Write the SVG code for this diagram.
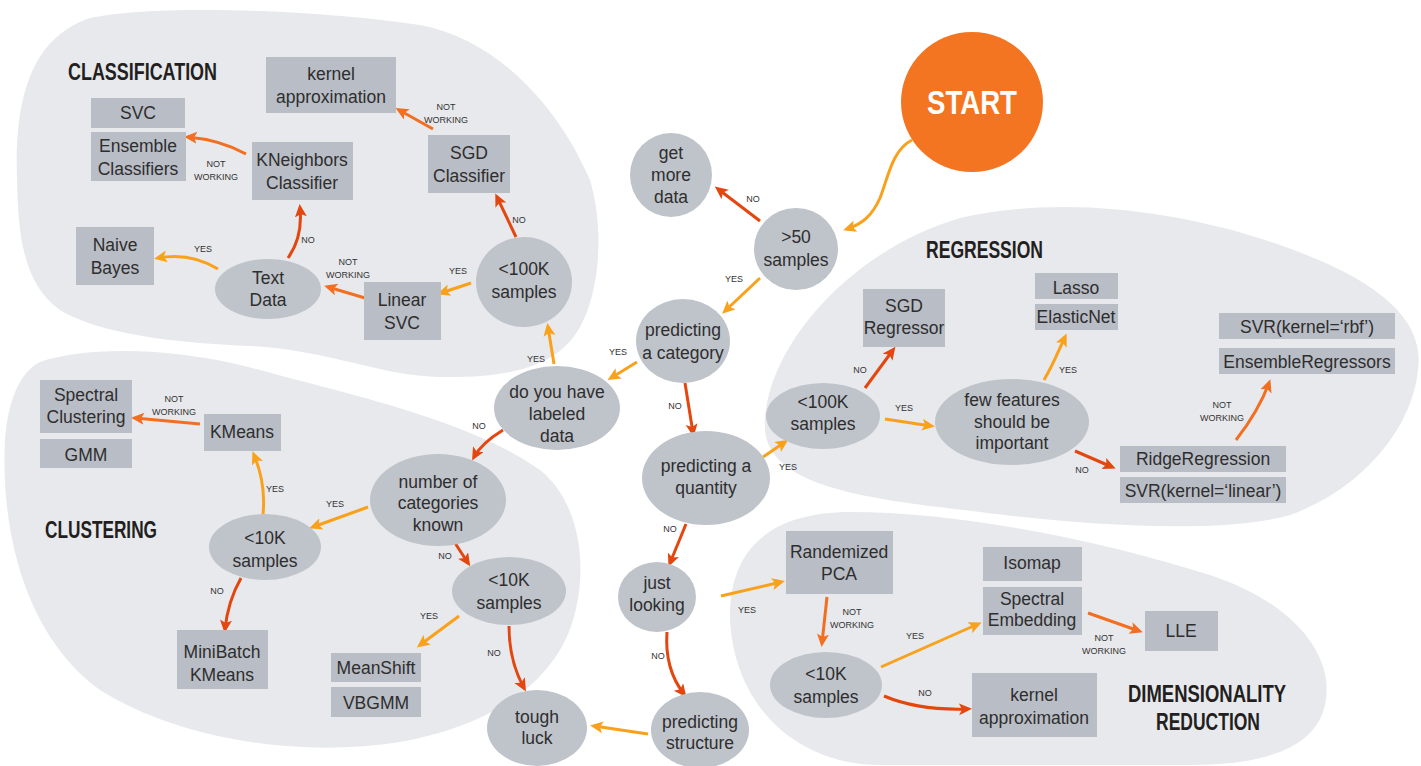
<svg xmlns="http://www.w3.org/2000/svg" width="1421" height="766" viewBox="0 0 1421 766">
<style>
.blob{fill:#e8e9ec}
.el{fill:#bfc3ca}
.bx{fill:#b9bdc5}
.n{font-family:"Liberation Sans",Arial,sans-serif;font-size:17.5px;fill:#2e2e2e;text-anchor:middle}
.l{font-family:"Liberation Sans",Arial,sans-serif;font-size:9px;fill:#333;text-anchor:middle}
.t{font-family:"Liberation Sans",Arial,sans-serif;font-size:24px;font-weight:bold;fill:#231f20}
.y{fill:none;stroke:#f9a11b;stroke-width:3}
.r{fill:none;stroke:#e3470f;stroke-width:3}
.o{fill:none;stroke:#f26f21;stroke-width:3}
</style>
<defs>
<marker id="my" markerUnits="userSpaceOnUse" markerWidth="14" markerHeight="14" refX="9" refY="6" orient="auto"><path d="M0,0 L13,6 L0,12 L3,6 Z" fill="#f9a11b"/></marker>
<marker id="mr" markerUnits="userSpaceOnUse" markerWidth="14" markerHeight="14" refX="9" refY="6" orient="auto"><path d="M0,0 L13,6 L0,12 L3,6 Z" fill="#e3470f"/></marker>
<marker id="mo" markerUnits="userSpaceOnUse" markerWidth="14" markerHeight="14" refX="9" refY="6" orient="auto"><path d="M0,0 L13,6 L0,12 L3,6 Z" fill="#f26f21"/></marker>
</defs>

<g id="regions">
<path id="blob-classification" class="blob" d="M17,180 C15,110 25,40 90,18 C150,5 300,8 420,25 C500,40 560,110 590,180 C605,230 600,300 575,335 C550,370 500,378 440,377 C380,376 330,350 250,346 C180,343 100,335 60,310 C25,285 18,240 17,180 Z"/>
<path id="blob-clustering" class="blob" d="M40,362 C90,345 180,348 260,370 C350,395 470,420 540,470 C590,510 590,600 560,650 C530,700 470,730 400,742 C300,758 180,740 100,690 C30,640 0,540 5,440 C8,400 20,372 40,362 Z"/>
<path id="blob-regression" class="blob" d="M765,430 C762,350 850,250 960,218 C1060,195 1180,210 1280,245 C1380,280 1425,320 1418,370 C1412,430 1360,490 1290,515 C1220,535 1080,525 980,512 C880,500 770,490 765,430 Z"/>
<path id="blob-dimensionality" class="blob" d="M730,620 C728,550 770,512 850,512 C960,512 1100,540 1210,575 C1300,605 1335,660 1325,705 C1315,750 1260,765 1190,765 L880,765 C800,765 735,710 730,620 Z"/>
<text class="t" x="68" y="80" textLength="149" lengthAdjust="spacingAndGlyphs">CLASSIFICATION</text>
<text class="t" x="926" y="258" textLength="117" lengthAdjust="spacingAndGlyphs">REGRESSION</text>
<text class="t" x="45" y="538" textLength="112" lengthAdjust="spacingAndGlyphs">CLUSTERING</text>
<text class="t" x="1128" y="702" textLength="158" lengthAdjust="spacingAndGlyphs">DIMENSIONALITY</text>
<text class="t" x="1156" y="730" textLength="104" lengthAdjust="spacingAndGlyphs">REDUCTION</text>
</g>

<g id="connectors">
<path class="y" d="M912,140 C892,150 888,178 880,198 C872,216 862,224 847,229" marker-end="url(#my)"/>
<path class="r" d="M760,221 L718,189" marker-end="url(#mr)"/>
<path class="y" d="M760,278 L725,311" marker-end="url(#my)"/>
<path class="y" d="M637,362 L611,378" marker-end="url(#my)"/>
<path class="r" d="M685,383 L693,433" marker-end="url(#mr)"/>
<path class="y" d="M554,364 L548,327" marker-end="url(#my)"/>
<path class="r" d="M503,430 C490,438 480,446 474,457" marker-end="url(#mr)"/>
<path class="y" d="M763,457 L785,442" marker-end="url(#my)"/>
<path class="r" d="M686,524 L670,563" marker-end="url(#mr)"/>
<path class="y" d="M721,596 L781,582" marker-end="url(#my)"/>
<path class="r" d="M667,632 C665,660 673,680 684,694" marker-end="url(#mr)"/>
<path class="y" d="M648,734 L594,726" marker-end="url(#my)"/>
<path class="o" d="M433,129 L399,110" marker-end="url(#mo)"/>
<path class="o" d="M246,154 C228,144 210,139 188,137" marker-end="url(#mo)"/>
<path class="r" d="M516,237 L497,197" marker-end="url(#mr)"/>
<path class="r" d="M288,258 C298,244 302,228 300,208" marker-end="url(#mr)"/>
<path class="y" d="M218,269 C200,258 180,254 158,258" marker-end="url(#my)"/>
<path class="o" d="M365,298 L328,287" marker-end="url(#mo)"/>
<path class="y" d="M471,283 L441,293" marker-end="url(#my)"/>
<path class="o" d="M200,424 L135,418" marker-end="url(#mo)"/>
<path class="y" d="M263,514 C265,494 262,474 254,455" marker-end="url(#my)"/>
<path class="r" d="M241,578 C232,594 227,610 225,629" marker-end="url(#mr)"/>
<path class="y" d="M368,507 L313,527" marker-end="url(#my)"/>
<path class="r" d="M455,543 L468,563" marker-end="url(#mr)"/>
<path class="y" d="M459,616 L420,645" marker-end="url(#my)"/>
<path class="r" d="M509,626 C509,650 514,670 524,688" marker-end="url(#mr)"/>
<path class="r" d="M865,388 L893,350" marker-end="url(#mr)"/>
<path class="y" d="M885,419 L931,426" marker-end="url(#my)"/>
<path class="y" d="M1044,380 C1053,365 1058,352 1065,337" marker-end="url(#my)"/>
<path class="r" d="M1075,451 L1112,467" marker-end="url(#mr)"/>
<path class="o" d="M1236,440 C1250,422 1262,402 1269,383" marker-end="url(#mo)"/>
<path class="o" d="M827,597 L822,643" marker-end="url(#mo)"/>
<path class="y" d="M881,667 L978,624" marker-end="url(#my)"/>
<path class="r" d="M884,696 C910,707 940,710 968,709" marker-end="url(#mr)"/>
<path class="o" d="M1088,613 L1139,631" marker-end="url(#mo)"/>
<text class="l" x="446" y="110">NOT</text><text class="l" x="446" y="123">WORKING</text>
<text class="l" x="216" y="167">NOT</text><text class="l" x="216" y="180">WORKING</text>
<text class="l" x="519" y="223">NO</text>
<text class="l" x="308" y="243">NO</text>
<text class="l" x="203" y="252">YES</text>
<text class="l" x="348" y="265">NOT</text><text class="l" x="348" y="278">WORKING</text>
<text class="l" x="458" y="274">YES</text>
<text class="l" x="753" y="202">NO</text>
<text class="l" x="734" y="282">YES</text>
<text class="l" x="618" y="355">YES</text>
<text class="l" x="675" y="409">NO</text>
<text class="l" x="536" y="362">YES</text>
<text class="l" x="479" y="429">NO</text>
<text class="l" x="788" y="470">YES</text>
<text class="l" x="670" y="532">NO</text>
<text class="l" x="747" y="613">YES</text>
<text class="l" x="658" y="659">NO</text>
<text class="l" x="174" y="402">NOT</text><text class="l" x="174" y="415">WORKING</text>
<text class="l" x="275" y="492">YES</text>
<text class="l" x="217" y="594">NO</text>
<text class="l" x="335" y="507">YES</text>
<text class="l" x="445" y="559">NO</text>
<text class="l" x="429" y="619">YES</text>
<text class="l" x="494" y="656">NO</text>
<text class="l" x="860" y="373">NO</text>
<text class="l" x="904" y="411">YES</text>
<text class="l" x="1068" y="373">YES</text>
<text class="l" x="1082" y="473">NO</text>
<text class="l" x="1222" y="408">NOT</text><text class="l" x="1222" y="421">WORKING</text>
<text class="l" x="852" y="615">NOT</text><text class="l" x="852" y="628">WORKING</text>
<text class="l" x="915" y="639">YES</text>
<text class="l" x="925" y="696">NO</text>
<text class="l" x="1104" y="641">NOT</text><text class="l" x="1104" y="654">WORKING</text>
</g>

<g id="start"><ellipse cx="972" cy="102" rx="71" ry="70" fill="#f47521"/><text x="972" y="114" font-family="Liberation Sans, Arial, sans-serif" font-weight="bold" font-size="34" fill="#fff" text-anchor="middle" textLength="90" lengthAdjust="spacingAndGlyphs">START</text></g>
<g id="get-more-data"><ellipse class="el" cx="671" cy="175" rx="41" ry="42"/><text class="n" x="671" y="159">get</text><text class="n" x="671" y="181">more</text><text class="n" x="671" y="203">data</text></g>
<g id="gt50-samples"><ellipse class="el" cx="796" cy="249" rx="42" ry="41"/><text class="n" x="796" y="243">&gt;50</text><text class="n" x="796" y="266">samples</text></g>
<g id="predicting-category"><ellipse class="el" cx="683" cy="341" rx="47" ry="42"/><text class="n" x="683" y="336">predicting</text><text class="n" x="683" y="359">a category</text></g>
<g id="labeled-data"><ellipse class="el" cx="557" cy="408" rx="63" ry="42"/><text class="n" x="557" y="398">do you have</text><text class="n" x="557" y="420">labeled</text><text class="n" x="557" y="442">data</text></g>
<g id="predicting-quantity"><ellipse class="el" cx="706" cy="478" rx="64" ry="47"/><text class="n" x="706" y="472">predicting a</text><text class="n" x="706" y="494">quantity</text></g>
<g id="just-looking"><ellipse class="el" cx="657" cy="597" rx="39" ry="35"/><text class="n" x="657" y="589">just</text><text class="n" x="657" y="611">looking</text></g>
<g id="predicting-structure"><ellipse class="el" cx="700" cy="730" rx="49" ry="38"/><text class="n" x="700" y="728">predicting</text><text class="n" x="700" y="749">structure</text></g>
<g id="tough-luck"><ellipse class="el" cx="537" cy="728" rx="50" ry="38"/><text class="n" x="537" y="723">tough</text><text class="n" x="537" y="744">luck</text></g>

<g id="cls-kernel-approx"><rect class="bx" x="266" y="57" width="130" height="56"/><text class="n" x="331" y="80">kernel</text><text class="n" x="331" y="103">approximation</text></g>
<g id="cls-svc"><rect class="bx" x="91" y="98" width="94" height="30"/><text class="n" x="138" y="119">SVC</text></g>
<g id="cls-ensemble"><rect class="bx" x="91" y="132" width="95" height="49"/><text class="n" x="138" y="152">Ensemble</text><text class="n" x="138" y="175">Classifiers</text></g>
<g id="cls-kneighbors"><rect class="bx" x="252" y="142" width="101" height="58"/><text class="n" x="302" y="166">KNeighbors</text><text class="n" x="302" y="189">Classifier</text></g>
<g id="cls-sgd"><rect class="bx" x="428" y="135" width="82" height="58"/><text class="n" x="469" y="159">SGD</text><text class="n" x="469" y="182">Classifier</text></g>
<g id="cls-naive-bayes"><rect class="bx" x="76" y="227" width="78" height="58"/><text class="n" x="115" y="251">Naive</text><text class="n" x="115" y="274">Bayes</text></g>
<g id="cls-text-data"><ellipse class="el" cx="268" cy="289" rx="53" ry="30"/><text class="n" x="268" y="284">Text</text><text class="n" x="268" y="306">Data</text></g>
<g id="cls-linear-svc"><rect class="bx" x="364" y="282" width="77" height="58"/><text class="n" x="402" y="306">Linear</text><text class="n" x="402" y="329">SVC</text></g>
<g id="cls-100k"><ellipse class="el" cx="524" cy="282" rx="48" ry="45"/><text class="n" x="524" y="275">&lt;100K</text><text class="n" x="524" y="298">samples</text></g>

<g id="clu-spectral"><rect class="bx" x="40" y="380" width="92" height="53"/><text class="n" x="86" y="401">Spectral</text><text class="n" x="86" y="423">Clustering</text></g>
<g id="clu-gmm"><rect class="bx" x="40" y="439" width="92" height="29"/><text class="n" x="86" y="461">GMM</text></g>
<g id="clu-kmeans"><rect class="bx" x="204" y="414" width="77" height="37"/><text class="n" x="242" y="438">KMeans</text></g>
<g id="clu-10k-a"><ellipse class="el" cx="265" cy="547" rx="56" ry="33"/><text class="n" x="265" y="544">&lt;10K</text><text class="n" x="265" y="567">samples</text></g>
<g id="clu-categories"><ellipse class="el" cx="438" cy="500" rx="68" ry="46"/><text class="n" x="438" y="488">number of</text><text class="n" x="438" y="509">categories</text><text class="n" x="438" y="531">known</text></g>
<g id="clu-10k-b"><ellipse class="el" cx="509" cy="591" rx="57" ry="34"/><text class="n" x="509" y="586">&lt;10K</text><text class="n" x="509" y="609">samples</text></g>
<g id="clu-minibatch"><rect class="bx" x="177" y="630" width="91" height="59"/><text class="n" x="222" y="658">MiniBatch</text><text class="n" x="222" y="681">KMeans</text></g>
<g id="clu-meanshift"><rect class="bx" x="331" y="653" width="90" height="29"/><text class="n" x="376" y="674">MeanShift</text></g>
<g id="clu-vbgmm"><rect class="bx" x="331" y="687" width="90" height="30"/><text class="n" x="376" y="709">VBGMM</text></g>

<g id="reg-sgd"><rect class="bx" x="863" y="289" width="82" height="58"/><text class="n" x="904" y="312">SGD</text><text class="n" x="904" y="334">Regressor</text></g>
<g id="reg-lasso"><rect class="bx" x="1035" y="273" width="83" height="26"/><text class="n" x="1076" y="294">Lasso</text></g>
<g id="reg-elasticnet"><rect class="bx" x="1035" y="304" width="83" height="26"/><text class="n" x="1076" y="323">ElasticNet</text></g>
<g id="reg-svr-rbf"><rect class="bx" x="1219" y="313" width="176" height="26"/><text class="n" x="1307" y="333">SVR(kernel=‘rbf’)</text></g>
<g id="reg-ensemble"><rect class="bx" x="1219" y="348" width="176" height="26"/><text class="n" x="1307" y="368">EnsembleRegressors</text></g>
<g id="reg-100k"><ellipse class="el" cx="823" cy="416" rx="57" ry="33"/><text class="n" x="823" y="408">&lt;100K</text><text class="n" x="823" y="430">samples</text></g>
<g id="reg-few-features"><ellipse class="el" cx="1012" cy="422" rx="77" ry="43"/><text class="n" x="1012" y="406">few features</text><text class="n" x="1012" y="428">should be</text><text class="n" x="1012" y="449">important</text></g>
<g id="reg-ridge"><rect class="bx" x="1120" y="446" width="166" height="26"/><text class="n" x="1203" y="465">RidgeRegression</text></g>
<g id="reg-svr-linear"><rect class="bx" x="1120" y="477" width="166" height="26"/><text class="n" x="1203" y="497">SVR(kernel=‘linear’)</text></g>

<g id="dim-pca"><rect class="bx" x="786" y="531" width="107" height="63"/><text class="n" x="839" y="558">Randemized</text><text class="n" x="839" y="580">PCA</text></g>
<g id="dim-isomap"><rect class="bx" x="983" y="547" width="99" height="34"/><text class="n" x="1032" y="569">Isomap</text></g>
<g id="dim-spectral"><rect class="bx" x="983" y="587" width="99" height="48"/><text class="n" x="1032" y="605">Spectral</text><text class="n" x="1032" y="626">Embedding</text></g>
<g id="dim-lle"><rect class="bx" x="1145" y="611" width="73" height="40"/><text class="n" x="1181" y="637">LLE</text></g>
<g id="dim-10k"><ellipse class="el" cx="826" cy="685" rx="56" ry="33"/><text class="n" x="826" y="680">&lt;10K</text><text class="n" x="826" y="703">samples</text></g>
<g id="dim-kernel"><rect class="bx" x="972" y="673" width="125" height="64"/><text class="n" x="1034" y="701">kernel</text><text class="n" x="1034" y="724">approximation</text></g>
</svg>
